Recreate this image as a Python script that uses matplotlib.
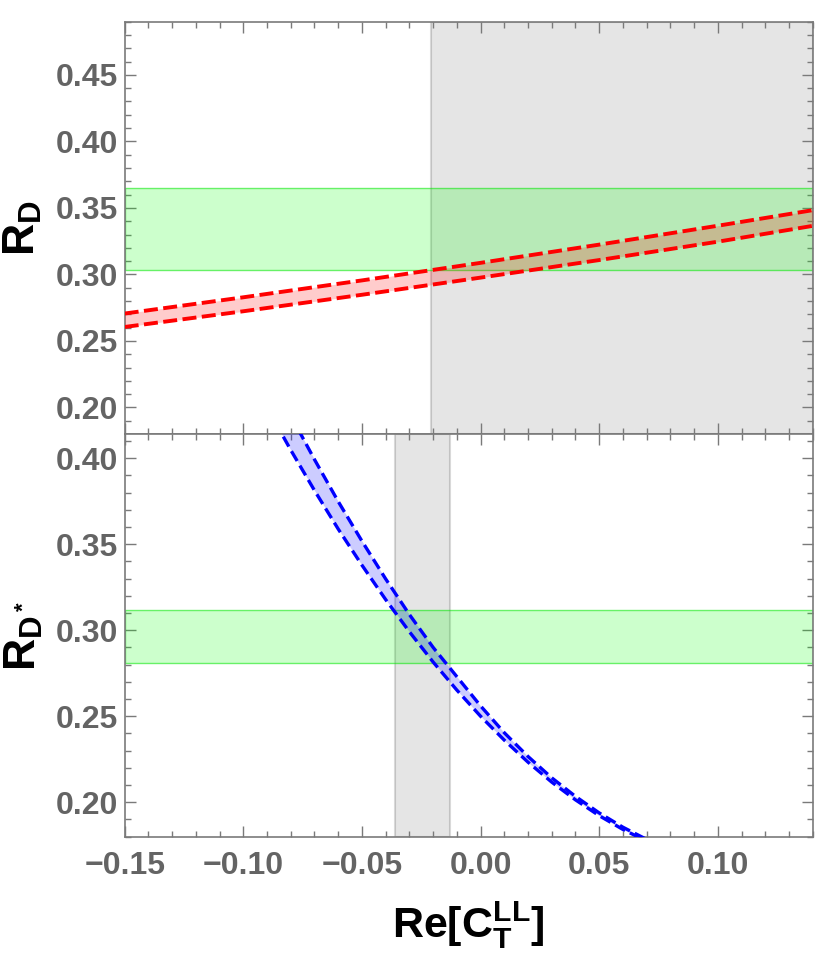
import matplotlib
matplotlib.use('Agg')
import matplotlib.pyplot as plt
from matplotlib.ticker import MultipleLocator, FuncFormatter

plt.rcParams['font.family'] = ['Liberation Sans', 'DejaVu Sans']
plt.rcParams['mathtext.fontset'] = 'custom'
plt.rcParams['mathtext.bf'] = 'Liberation Sans:bold'
plt.rcParams['mathtext.rm'] = 'Liberation Sans:bold'
plt.rcParams['mathtext.it'] = 'Liberation Sans:bold'

# R_D band (red)
ct_d = [-0.15, -0.10, -0.05, 0.00, 0.05, 0.10, 0.14]
rd_hi = [0.2706, 0.2828, 0.2955, 0.3087, 0.3224, 0.3366, 0.3483]
rd_lo = [0.2605, 0.2723, 0.2847, 0.2976, 0.3108, 0.3246, 0.3365]

# R_D* band (blue)
ct_ds = [-0.09, -0.08, -0.07, -0.06, -0.05, -0.04, -0.03, -0.02, -0.01,
         0.00, 0.01, 0.02, 0.03, 0.04, 0.05, 0.06, 0.07]
rds_lo = [0.4294, 0.4047, 0.3812, 0.3588, 0.3378, 0.3178, 0.2991, 0.2815, 0.2652,
          0.2500, 0.2361, 0.2233, 0.2117, 0.2014, 0.1922, 0.1842, 0.1774]
rds_hi = [0.4510, 0.4247, 0.3992, 0.3748, 0.3518, 0.3298, 0.3091, 0.2900, 0.2730,
          0.2560, 0.2404, 0.2266, 0.2142, 0.2034, 0.1938, 0.1855, 0.1784]

# experimental bands (green) and allowed C_T ranges (gray)
rd_exp = (0.303, 0.365)
rds_exp = (0.281, 0.312)
ct_allowed_d = (-0.021, 0.14)
ct_allowed_ds = (-0.036, -0.013)

xlim = (-0.15, 0.14)

fig = plt.figure(figsize=(8.34, 9.55), dpi=100)
ax1 = fig.add_axes([0.1495, 0.5455, 0.825, 0.4318])
ax2 = fig.add_axes([0.1495, 0.1239, 0.825, 0.4216])

tick_gray = '#646464'
fmt = FuncFormatter(lambda v, pos: f'{v:.2f}'.replace('-', '\u2212'))


def style_axis(ax, ylim, yticks):
    ax.set_xlim(*xlim)
    ax.set_ylim(*ylim)
    ax.xaxis.set_major_locator(MultipleLocator(0.05))
    ax.xaxis.set_minor_locator(MultipleLocator(0.01))
    ax.set_yticks(yticks)
    ax.yaxis.set_minor_locator(MultipleLocator(0.01))
    ax.yaxis.set_major_formatter(fmt)
    ax.xaxis.set_major_formatter(fmt)
    ax.tick_params(which='both', direction='in', top=True, right=True,
                   color='#7a7a7a', width=1.0)
    ax.tick_params(which='major', length=8)
    ax.tick_params(which='minor', length=4.5)
    ax.tick_params(axis='y', labelsize=23, labelcolor=tick_gray, pad=5)
    ax.tick_params(axis='x', labelsize=23, labelcolor=tick_gray, pad=10)
    for lab in ax.get_xticklabels() + ax.get_yticklabels():
        lab.set_fontweight('bold')
    for sp in ax.spines.values():
        sp.set_color('#7a7a7a')
        sp.set_linewidth(1.2)


# top panel
ax1.axvspan(*ct_allowed_d, facecolor=(0, 0, 0, 0.1), edgecolor=(0, 0, 0, 0.15), lw=1.5, zorder=1)
ax1.axhspan(*rd_exp, facecolor=(0, 1, 0, 0.2), edgecolor=(0, 0.9, 0, 0.55), lw=1.0, zorder=2)
ax1.fill_between(ct_d, rd_lo, rd_hi, color=(1, 0, 0, 0.2), lw=0, zorder=3)
ax1.plot(ct_d, rd_hi, color='red', lw=2.8, ls=(0, (3.6, 1.4)), zorder=4)
ax1.plot(ct_d, rd_lo, color='red', lw=2.8, ls=(0, (3.6, 1.4)), zorder=4)
style_axis(ax1, (0.18, 0.49), [0.20, 0.25, 0.30, 0.35, 0.40, 0.45])
ax1.tick_params(axis='x', labelbottom=False)

# bottom panel
ax2.axvspan(*ct_allowed_ds, facecolor=(0, 0, 0, 0.1), edgecolor=(0, 0, 0, 0.15), lw=1.5, zorder=1)
ax2.axhspan(*rds_exp, facecolor=(0, 1, 0, 0.2), edgecolor=(0, 0.9, 0, 0.55), lw=1.0, zorder=2)
ax2.fill_between(ct_ds, rds_lo, rds_hi, color=(0, 0, 1, 0.2), lw=0, zorder=3)
ax2.plot(ct_ds, rds_hi, color='blue', lw=2.4, ls=(0, (3.4, 1.6)), zorder=4)
ax2.plot(ct_ds, rds_lo, color='blue', lw=2.4, ls=(0, (3.4, 1.6)), zorder=4)
style_axis(ax2, (0.18, 0.414), [0.20, 0.25, 0.30, 0.35, 0.40])

# axis labels
fig.text(23 / 834, 1 - 228 / 955, r'$\mathbf{R_D}$', rotation=90, ha='center', va='center',
         fontsize=32, color='black')
fig.text(24 / 834, 1 - 636 / 955, r'$\mathbf{R_{D^*}}$', rotation=90, ha='center', va='center',
         fontsize=32, color='black')
fig.text(468 / 834, 1 - 925 / 955, r'$\mathbf{Re[C_T^{LL}]}$', ha='center', va='center',
         fontsize=31, color='black')

fig.savefig('out.png', dpi=100)
